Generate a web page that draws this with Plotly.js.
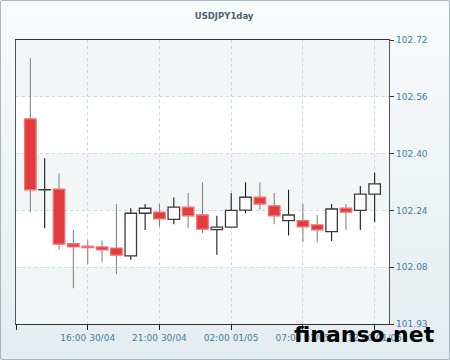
<!DOCTYPE html>
<html>
<head>
<meta charset="utf-8">
<script src="https://cdn.plot.ly/plotly-3.0.1.min.js"></script>
<style>
  html, body { margin: 0; padding: 0; }
  body { width: 450px; height: 360px; overflow: hidden;
         background: linear-gradient(#f8fbfc, #e5ecef); }
  #wrap { position: relative; width: 450px; height: 360px; }
  #chart { position: absolute; left: 0; top: 0; width: 450px; height: 360px; }
  #frame { position: absolute; left: 0; top: 0; width: 448px; height: 358px;
           border: 1px solid #aab6bf; border-radius: 2px; pointer-events: none; }
</style>
</head>
<body>
<div id="wrap"><div id="chart"></div><div id="frame"></div></div>
<script>
// ---- data ----
const times = [
  "2014-04-30 12:00", "2014-04-30 13:00", "2014-04-30 14:00", "2014-04-30 15:00",
  "2014-04-30 16:00", "2014-04-30 17:00", "2014-04-30 18:00", "2014-04-30 19:00",
  "2014-04-30 20:00", "2014-04-30 21:00", "2014-04-30 22:00", "2014-04-30 23:00",
  "2014-05-01 00:00", "2014-05-01 01:00", "2014-05-01 02:00", "2014-05-01 03:00",
  "2014-05-01 04:00", "2014-05-01 05:00", "2014-05-01 06:00", "2014-05-01 07:00",
  "2014-05-01 08:00", "2014-05-01 09:00", "2014-05-01 10:00", "2014-05-01 11:00",
  "2014-05-01 12:00"
];
const openVals  = [102.498, 102.298, 102.300, 102.146, 102.139, 102.137, 102.134, 102.112, 102.232, 102.235, 102.215, 102.249, 102.227, 102.186, 102.193, 102.241, 102.277, 102.253, 102.211, 102.211, 102.199, 102.180, 102.246, 102.240, 102.286];
const highVals  = [102.669, 102.387, 102.345, 102.185, 102.155, 102.155, 102.258, 102.246, 102.258, 102.258, 102.276, 102.289, 102.319, 102.225, 102.289, 102.319, 102.319, 102.289, 102.298, 102.258, 102.227, 102.258, 102.258, 102.309, 102.347];
const lowVals   = [102.235, 102.190, 102.129, 102.021, 102.088, 102.094, 102.060, 102.101, 102.185, 102.194, 102.201, 102.190, 102.176, 102.115, 102.193, 102.232, 102.242, 102.201, 102.169, 102.150, 102.150, 102.154, 102.185, 102.185, 102.207];
const closeVals = [102.298, 102.298, 102.145, 102.137, 102.135, 102.129, 102.114, 102.232, 102.246, 102.216, 102.249, 102.225, 102.187, 102.193, 102.240, 102.277, 102.258, 102.225, 102.227, 102.194, 102.185, 102.244, 102.235, 102.286, 102.315];

const yTickVals  = [101.92, 102.08, 102.24, 102.40, 102.56, 102.72];
const yTickText  = ["101.93", "102.08", "102.24", "102.40", "102.56", "102.72"];
const xTickVals  = ["2014-04-30 11:00", "2014-04-30 16:00", "2014-04-30 21:00", "2014-05-01 02:00", "2014-05-01 07:00", "2014-05-01 12:00"];
const xTickText  = ["", "16:00 30/04", "21:00 30/04", "02:00 01/05", "07:00 01/05", "12:00 01/05"];
const chartTitle = "USDJPY1day";
const watermark  = "finanso.net";

// ---- styling ----
const HOUR = 3600000;
const RED = "#e23c3c", RED_EDGE = "#f07272", WHITE = "#ffffff", DARK = "#3a3a3a";
const isDown = openVals.map((o, i) => o > closeVals[i]);

const wicks = {
  type: "bar",
  x: times,
  base: lowVals,
  y: highVals.map((h, i) => h - lowVals[i]),
  width: times.map(() => 0.075 * HOUR),
  marker: { color: isDown.map(d => d ? "#858585" : "#151515"), line: { width: 0 } },
  hoverinfo: "skip"
};
const bodies = {
  type: "bar",
  x: times,
  base: openVals.map((o, i) => Math.min(o, closeVals[i])),
  y: openVals.map((o, i) => Math.max(Math.abs(o - closeVals[i]), 0.0004)),
  width: times.map(() => 0.8 * HOUR),
  marker: {
    color: isDown.map(d => d ? RED : WHITE),
    line: { color: isDown.map(d => d ? RED_EDGE : DARK), width: 1.3 }
  },
  hoverinfo: "skip"
};

const bandFill = "#f2f6f7";
const bands = [[101.92, 102.08], [102.24, 102.40], [102.56, 102.72]].map(b => ({
  type: "rect", xref: "paper", yref: "y", x0: 0, x1: 1, y0: b[0], y1: b[1],
  fillcolor: bandFill, line: { width: 0 }, layer: "below"
}));

const tickFont = { family: "DejaVu Sans, Verdana, sans-serif", size: 9, color: "#3a7fa6" };

const layout = {
  width: 450, height: 360,
  margin: { l: 16, r: 61, t: 40, b: 36, pad: 0 },
  paper_bgcolor: "rgba(0,0,0,0)",
  plot_bgcolor: "#ffffff",
  showlegend: false,
  barmode: "overlay",
  hovermode: false,
  title: {
    text: "<b>" + chartTitle + "</b>",
    font: { family: "DejaVu Sans, Verdana, sans-serif", size: 8.5, color: "#4d6272" },
    x: 0.498, xanchor: "center", y: 1 - 16 / 360, yanchor: "middle"
  },
  xaxis: {
    type: "date",
    range: ["2014-04-30 11:00", "2014-05-01 13:00"],
    tickmode: "array", tickvals: xTickVals, ticktext: xTickText,
    ticks: "outside", ticklen: 5, tickcolor: "#222", tickwidth: 1,
    showline: true, linecolor: "#333", linewidth: 1.3, mirror: true,
    showgrid: true, gridcolor: "#b9dce6", griddash: "3px,3px", gridwidth: 1,
    zeroline: false, tickfont: tickFont, fixedrange: true
  },
  yaxis: {
    side: "right",
    range: [101.92, 102.72],
    tickmode: "array", tickvals: yTickVals, ticktext: yTickText,
    ticks: "outside", ticklen: 4, tickcolor: "#333", tickwidth: 1,
    showline: true, linecolor: "#555", linewidth: 1.3, mirror: true,
    showgrid: true, gridcolor: "#b9dce6", griddash: "3px,3px", gridwidth: 1,
    zeroline: false, tickfont: tickFont, fixedrange: true
  },
  shapes: bands,
  annotations: [{
    text: "<b>" + watermark + "</b>",
    xref: "paper", yref: "paper",
    x: (364 - 16) / 373, y: -(334 - 324) / 284,
    xanchor: "center", yanchor: "middle", showarrow: false,
    font: { family: "DejaVu Sans, sans-serif", size: 22, color: "#000000" }
  }]
};

Plotly.newPlot("chart", [wicks, bodies], layout, { displayModeBar: false, staticPlot: true });
</script>
</body>
</html>
